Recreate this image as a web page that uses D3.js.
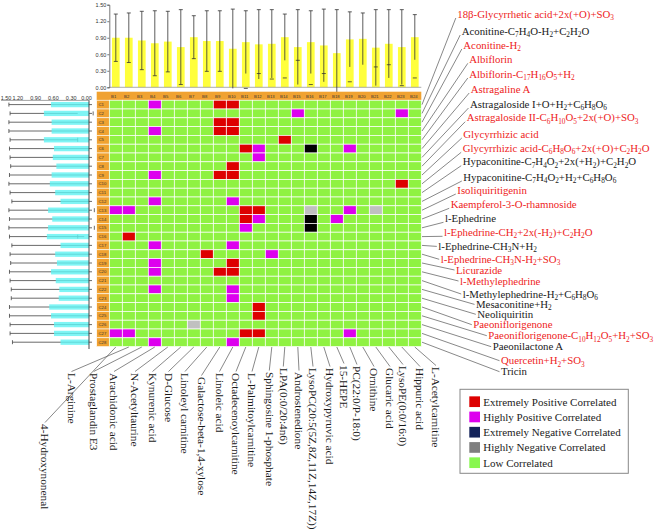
<!DOCTYPE html>
<html><head><meta charset="utf-8">
<script src="https://cdn.jsdelivr.net/npm/d3@7"></script>
<style>body{margin:0;background:#fff}svg{display:block}</style>
</head><body>
<svg id="c" width="659" height="530"></svg>
<script>
// ---------------- DATA ----------------
const colIds = ["B1","B2","B3","B4","B5","B6","B7","B8","B9","B10","B11","B12","B13","B14","B15","B16","B17","B18","B19","B20","B21","B22","B23","B24"];
const rowIds = ["C1","C2","C3","C4","C5","C6","C7","C8","C9","C10","C11","C12","C13","C14","C15","C16","C17","C18","C19","C20","C21","C22","C23","C24","C25","C26","C27","C28"];
const colNames = ["4-Hydroxynonenal","L-Arginine","Prostaglandin E3","Arachidonic acid","N-Acetyltaurine","Kynurenic acid","D-Glucose","Linoleyl carnitine","Galactose-beta-1,4-xylose","Linoleic acid","Octadecenoylcarnitine","L-Palmitoylcarnitine","Sphingosine 1-phosphate","LPA(0:0/20:4n6)","Androstenedione","LysoPC(20:5(5Z,8Z,11Z,14Z,17Z))","Hydroxypyruvic acid","15-HEPE","PC(22:0/P-18:0)","Ornithine","Glucaric acid","LysoPE(0:0/16:0)","Hippuric acid","L-Acetylcarnitine"];
const rowNames = ["18β-Glycyrrhetic acid+2x(+O)+SO3","Aconitine-C7H4O-H2+C2H2O","Aconitine-H2","Albiflorin","Albiflorin-C17H16O5+H2","Astragaline A","Astragaloside I+O+H2+C6H8O6","Astragaloside II-C6H10O5+2x(+O)+SO3","Glycyrrhizic acid","Glycyrrhizic acid-C6H8O6+2x(+O)+C2H2O","Hypaconitine-C7H4O2+2x(+H2)+C2H2O","Hypaconitine-C7H4O2+H2+C6H8O6","Isoliquiritigenin","Kaempferol-3-O-rhamnoside","l-Ephedrine","l-Ephedrine-CH2+2x(-H2)+C2H2O","l-Ephedrine-CH3N+H2","l-Ephedrine-CH3N-H2+SO3","Licurazide","l-Methylephedrine","l-Methylephedrine-H2+C6H8O6","Mesaconitine+H2","Neoliquiritin","Paeoniflorigenone","Paeoniflorigenone-C10H12O5+H2+SO3","Paeonilactone A","Quercetin+H2+SO3","Tricin"];
// 1 = prototype compound (shown highlighted), 0 = metabolite
const rowIsPrototype = [1,0,1,1,1,1,0,1,1,1,0,0,1,1,0,1,0,1,1,1,0,0,0,1,1,0,1,0];
// top bar chart (columns): mean and SD
const colMeans = [0.90,0.90,0.85,0.80,0.83,0.73,0.91,0.84,0.84,0.70,0.82,0.78,0.79,0.91,0.73,0.82,0.76,0.62,0.87,0.88,0.72,0.79,0.73,0.91];
const colSD    = [0.43,0.45,0.53,0.59,0.55,0.68,0.39,0.55,0.55,0.72,0.57,0.63,0.62,0.42,0.68,0.57,0.66,0.79,0.50,0.47,0.69,0.62,0.68,0.41];
// left bar chart (rows): mean and SD
const rowMeans = [0.64,0.76,0.63,0.63,0.76,0.59,0.61,0.55,0.63,0.66,0.57,0.48,0.69,0.62,0.69,0.71,0.48,0.57,0.54,0.64,0.56,0.50,0.51,0.67,0.64,0.59,0.59,0.48];
const rowSD    = [0.71,0.57,0.72,0.72,0.57,0.75,0.72,0.77,0.71,0.69,0.76,0.82,0.66,0.72,0.66,0.63,0.82,0.76,0.78,0.70,0.77,0.81,0.80,0.67,0.70,0.74,0.74,0.81];
const axisTicks = [0,0.3,0.6,0.9,1.2,1.5];
const levelNames = ["Low Correlated","Extremely Positive Correlated","Highly Positive Correlated","Extremely Negative Correlated","Highly Negative Correlated"];
// non-"low" cells: [row, column, level index]
const strongCells = [
 ["C1","B4",2],["C1","B9",1],["C1","B10",1],
 ["C2","B15",2],["C2","B23",2],
 ["C3","B9",1],["C3","B10",1],
 ["C4","B4",2],["C4","B9",1],["C4","B10",1],
 ["C5","B14",1],
 ["C6","B11",1],["C6","B12",2],["C6","B16",3],["C6","B19",2],
 ["C7","B12",2],
 ["C8","B10",1],
 ["C9","B4",2],["C9","B9",1],["C9","B10",1],
 ["C10","B23",1],
 ["C12","B4",2],["C12","B10",2],
 ["C13","B1",2],["C13","B2",2],["C13","B11",1],["C13","B12",1],["C13","B16",4],["C13","B19",2],["C13","B21",4],
 ["C14","B11",1],["C14","B12",2],["C14","B16",3],["C14","B18",2],
 ["C15","B11",2],["C15","B16",3],
 ["C16","B2",1],
 ["C17","B4",2],["C17","B10",2],
 ["C18","B8",1],["C18","B13",2],
 ["C19","B4",2],["C19","B10",1],
 ["C20","B4",2],["C20","B9",1],["C20","B10",1],
 ["C22","B4",2],["C22","B10",2],
 ["C23","B10",2],
 ["C24","B12",1],
 ["C25","B12",1],
 ["C26","B7",4],
 ["C27","B1",2],["C27","B2",2],["C27","B11",1],["C27","B12",1],["C27","B19",2],
 ["C28","B4",2],["C28","B10",2]
];
const legendOrder = [1,2,3,4,0];

// ---------------- LAYOUT / STYLE ----------------
const cellColor = ["#8ff242","#dd0000","#dd00ee","#000000","#c0c0c0"];
const legendColor = ["#88f750","#dd0000","#dd00ee","#13235a","#7f7f7f"];
const orange = "#f0a231";
const serif = "'Liberation Serif','Times New Roman',serif";
const sans = "'Liberation Sans',Arial,sans-serif";
// right label anchor positions [x, y-center]
const rightLabelPos = [[457.3,14],[461.7,31],[463.3,45],[469.3,59.3],[469.3,74],[470.7,89],[470,104],[466.7,117.7],[463.3,134],[462.7,148.3],[462.7,161.7],[463.3,177],[457.3,190],[450.7,204.3],[445,218.3],[444,232.3],[438.3,246.4],[440.7,259.3],[456,270],[460,281],[462.7,294],[476,304.4],[477.3,314.3],[473.3,324.7],[488.3,335.7],[492.7,346.7],[501,360.7],[501,371.7]];
// bottom label anchor positions [x-center, top]
const bottomLabelPos = [[45,424],[71.5,373],[93.7,373],[114,373],[135,373],[152.5,373],[168.5,373],[185,373],[201.5,377],[219.5,373],[236,373],[252,373],[269.3,372],[283.3,368],[299,372],[313,368],[330,368],[344,365],[357,366],[374,368],[390,368],[403,366],[420,368],[436,367]];

const svg = d3.select("#c");
const x = d3.scaleBand().domain(colIds).range([109.3, 421.3]);
const y = d3.scaleBand().domain(rowIds).range([100.2, 346.6]);
const yTop = d3.scaleLinear().domain([0,1.5]).range([87.3,4.7]);
const xLeft = d3.scaleLinear().domain([0,1.5]).range([89,0]);
const level = d3.scaleOrdinal().domain(d3.range(5)).range(cellColor);

// ---------- top bar chart ----------
const gTop = svg.append("g");
const bw = 7.7;
gTop.selectAll("rect.bar").data(colIds).join("rect")
  .attr("x", d => x(d) + x.bandwidth()/2 - bw/2)
  .attr("y", (d,i) => yTop(colMeans[i]))
  .attr("width", bw)
  .attr("height", (d,i) => yTop(0) - yTop(colMeans[i]))
  .attr("fill", "#ffff3c");
gTop.append("line").attr("x1",109.3).attr("x2",421.3).attr("y1",yTop(0)).attr("y2",yTop(0)).attr("stroke","#999").attr("stroke-width",0.8);
const eb = gTop.selectAll("g.eb").data(colIds).join("g").attr("stroke","#333").attr("stroke-width",0.8);
eb.append("line").attr("x1",d=>x(d)+x.bandwidth()/2).attr("x2",d=>x(d)+x.bandwidth()/2)
  .attr("y1",(d,i)=>yTop(colMeans[i]+colSD[i])).attr("y2",(d,i)=>yTop(colMeans[i]-colSD[i]));
eb.append("line").attr("x1",d=>x(d)+x.bandwidth()/2-2).attr("x2",d=>x(d)+x.bandwidth()/2+2)
  .attr("y1",(d,i)=>yTop(colMeans[i]+colSD[i])).attr("y2",(d,i)=>yTop(colMeans[i]+colSD[i]));
eb.filter((d,i)=>colMeans[i]-colSD[i] >= 0).append("line").attr("x1",d=>x(d)+x.bandwidth()/2-2).attr("x2",d=>x(d)+x.bandwidth()/2+2)
  .attr("y1",(d,i)=>yTop(colMeans[i]-colSD[i])).attr("y2",(d,i)=>yTop(colMeans[i]-colSD[i]));
const axT = gTop.append("g").attr("transform","translate(109.3,0)")
  .call(d3.axisLeft(yTop).tickValues(axisTicks).tickFormat(d3.format(".2f")).tickSize(2).tickPadding(1));
axT.selectAll("text").attr("font-size",5.5).attr("font-family",sans).attr("fill","#333");
axT.selectAll("line,path").attr("stroke","#555").attr("stroke-width",0.8);

// ---------- header & grid ----------
const gGrid = svg.append("g");
gGrid.append("rect").attr("x",96.7).attr("y",91.7).attr("width",421.3-96.7).attr("height",8.5).attr("fill",orange);
gGrid.selectAll("text.hd").data(colIds).join("text")
  .attr("x", d => x(d)+1.8).attr("y", 97.6).text(d=>d)
  .attr("font-size",4.2).attr("font-family",sans).attr("fill","#333");
gGrid.selectAll("rect.rl").data(rowIds).join("rect")
  .attr("x",96.7).attr("y",d=>y(d)).attr("width",12.6).attr("height",y.bandwidth())
  .attr("fill",orange).attr("stroke","#fff").attr("stroke-width",0.6);
gGrid.selectAll("text.rl").data(rowIds).join("text")
  .attr("x",98.6).attr("y",d=>y(d)+y.bandwidth()/2+1.5).text(d=>d)
  .attr("font-size",4.2).attr("font-family",sans).attr("fill","#333");
const lookup = new Map(strongCells.map(c => [c[0]+"|"+c[1], c[2]]));
const cells = [];
rowIds.forEach(r => colIds.forEach(c => cells.push({r, c, v: lookup.get(r+"|"+c) || 0})));
gGrid.selectAll("rect.cell").data(cells).join("rect")
  .attr("x",d=>x(d.c)).attr("y",d=>y(d.r)).attr("width",x.bandwidth()).attr("height",y.bandwidth())
  .attr("fill",d=>level(d.v)).attr("stroke","#fff").attr("stroke-width",0.7);

// ---------- left bar chart ----------
const gL = svg.append("g");
const bh = 5.3;
const leb = gL.selectAll("g.leb").data(rowIds).join("g").attr("stroke","#444").attr("stroke-width",0.8);
leb.append("line").attr("y1",d=>y(d)+y.bandwidth()/2).attr("y2",d=>y(d)+y.bandwidth()/2)
  .attr("x1",(d,i)=>xLeft(rowMeans[i]+rowSD[i])).attr("x2",(d,i)=>Math.min(89, xLeft(rowMeans[i]-rowSD[i])));
leb.append("line").attr("x1",(d,i)=>xLeft(rowMeans[i]+rowSD[i])).attr("x2",(d,i)=>xLeft(rowMeans[i]+rowSD[i]))
  .attr("y1",d=>y(d)+y.bandwidth()/2-2).attr("y2",d=>y(d)+y.bandwidth()/2+2);
leb.filter((d,i)=>rowMeans[i]-rowSD[i] > 0).append("line")
  .attr("x1",(d,i)=>xLeft(rowMeans[i]-rowSD[i])).attr("x2",(d,i)=>xLeft(rowMeans[i]-rowSD[i]))
  .attr("y1",d=>y(d)+y.bandwidth()/2-2).attr("y2",d=>y(d)+y.bandwidth()/2+2);
gL.selectAll("rect.lb").data(rowIds).join("rect")
  .attr("x",(d,i)=>xLeft(rowMeans[i])).attr("width",(d,i)=>xLeft(0)-xLeft(rowMeans[i]))
  .attr("y",d=>y(d)+y.bandwidth()/2-bh/2).attr("height",bh)
  .attr("fill","#5ff2f2").attr("opacity",0.8);
gL.append("line").attr("x1",89).attr("x2",89).attr("y1",100.2).attr("y2",349).attr("stroke","#333").attr("stroke-width",0.9);
gL.selectAll("line.tk").data(rowIds).join("line")
  .attr("x1",89).attr("x2",92).attr("y1",d=>y(d)+y.bandwidth()/2).attr("y2",d=>y(d)+y.bandwidth()/2)
  .attr("stroke","#444").attr("stroke-width",0.8);
gL.append("line").attr("x1",1).attr("x2",89).attr("y1",100.4).attr("y2",100.4).attr("stroke","#666").attr("stroke-width",0.6);
gL.selectAll("text.lt").data(axisTicks).join("text")
  .attr("x",d=>Math.max(6, Math.min(86.5, xLeft(d)))).attr("y",99.5).attr("text-anchor","middle")
  .text(d3.format(".2f")).attr("font-size",5.5).attr("font-family",sans).attr("fill","#333");

// ---------- right labels ----------
function addFormula(sel, str, subSize) {
  let tokens = [];
  let re = /([A-Za-z])(\d+)/g, last = 0, m;
  while ((m = re.exec(str)) !== null) {
    tokens.push({t: str.slice(last, m.index) + m[1], sub:false});
    tokens.push({t: m[2], sub:true});
    last = m.index + m[0].length;
  }
  if (last < str.length) tokens.push({t: str.slice(last), sub:false});
  let shifted = false;
  tokens.forEach(tk => {
    if (!tk.t) return;
    const ts = sel.append("tspan").text(tk.t);
    if (tk.sub && !shifted) { ts.attr("dy",2.2).attr("font-size",subSize); shifted = true; }
    else if (tk.sub) { ts.attr("font-size",subSize); }
    else if (shifted) { ts.attr("dy",-2.2); shifted = false; }
  });
}
const gR = svg.append("g");
gR.selectAll("line.ld").data(rowIds).join("line")
  .attr("x1",422).attr("y1",d=>y(d)+y.bandwidth()/2)
  .attr("x2",(d,i)=>rightLabelPos[i][0]-1.5)
  .attr("y2",(d,i)=>{const ly=rightLabelPos[i][1], ry=y(d)+y.bandwidth()/2; return ly < ry-3 ? ly+4 : ly;})
  .attr("stroke","#555").attr("stroke-width",0.7);
rowNames.forEach((nm,i) => {
  const t = gR.append("text").attr("x",rightLabelPos[i][0]).attr("y",rightLabelPos[i][1]+3.6)
    .attr("font-size",10.8).attr("font-family",serif).attr("fill", rowIsPrototype[i] ? "#ee1c1c" : "#1a1a1a");
  addFormula(t, nm, 7.3);
});

// ---------- bottom labels ----------
const gB = svg.append("g");
gB.selectAll("line.bd").data(colIds).join("line")
  .attr("x1",d=>x(d)+x.bandwidth()/2).attr("y1",347)
  .attr("x2",(d,i)=>bottomLabelPos[i][0]).attr("y2",(d,i)=>bottomLabelPos[i][1]-1.5)
  .attr("stroke","#555").attr("stroke-width",0.7);
gB.selectAll("text.bl").data(colNames).join("text")
  .attr("transform",(d,i)=>`translate(${bottomLabelPos[i][0]},${bottomLabelPos[i][1]}) rotate(90)`)
  .attr("dy","0.33em").text(d=>d)
  .attr("font-size",11.3).attr("font-family",serif).attr("fill","#1a1a1a");

// ---------- legend ----------
const gLeg = svg.append("g");
gLeg.append("rect").attr("x",460).attr("y",389.3).attr("width",168.3).attr("height",84)
  .attr("fill","#fff").attr("stroke","#888").attr("stroke-width",1);
const li = gLeg.selectAll("g.li").data(legendOrder).join("g")
  .attr("transform",(d,i)=>`translate(469.3,${401.7 + i*15.25})`);
li.append("rect").attr("x",0).attr("y",-5.35).attr("width",10.7).attr("height",10.7).attr("fill",d=>legendColor[d]);
li.append("text").attr("x",14).attr("y",3.8).text(d=>levelNames[d])
  .attr("font-size",11).attr("font-family",serif).attr("fill","#222");
</script>
</body></html>
